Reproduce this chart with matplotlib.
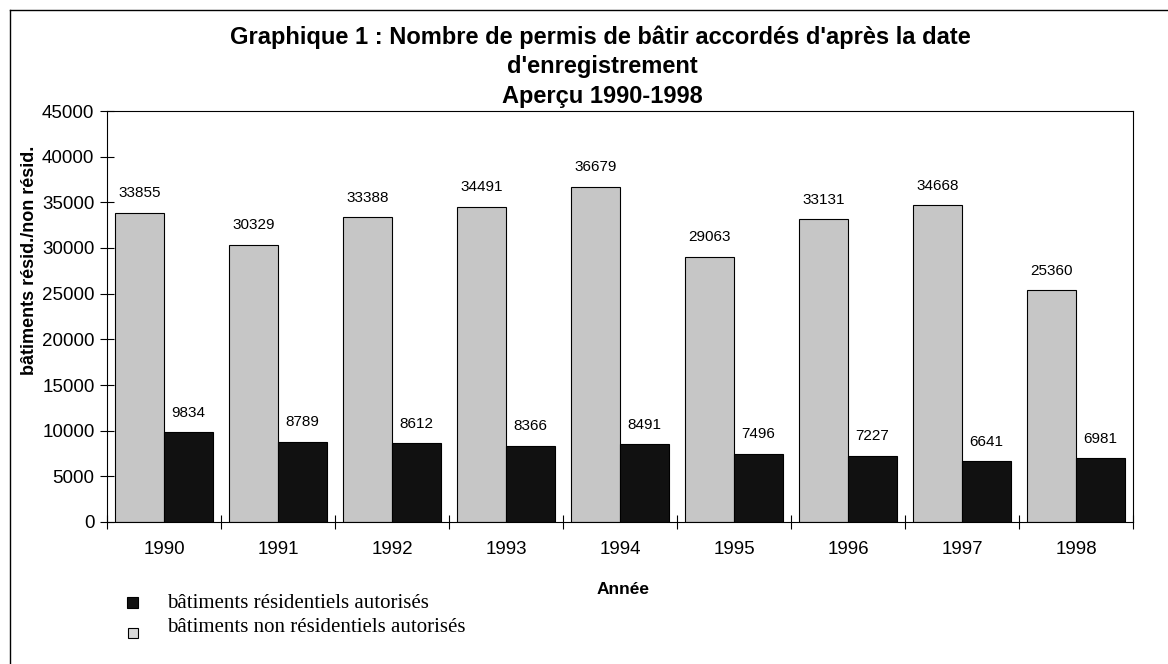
import matplotlib
matplotlib.use("Agg")
import matplotlib.pyplot as plt
from matplotlib.lines import Line2D
import numpy as np

years = ["1990", "1991", "1992", "1993", "1994", "1995", "1996", "1997", "1998"]
non_resid = [33855, 30329, 33388, 34491, 36679, 29063, 33131, 34668, 25360]
resid = [9834, 8789, 8612, 8366, 8491, 7496, 7227, 6641, 6981]
yticks = [0, 5000, 10000, 15000, 20000, 25000, 30000, 35000, 40000, 45000]

W, H = 1168, 664
fig = plt.figure(figsize=(W / 100, H / 100), dpi=100)
sans = "Liberation Sans"
serif = "Liberation Serif"

ax = fig.add_axes([107 / W, 1 - 522 / H, (1133 - 107) / W, (522 - 111) / H])
x = np.arange(len(years))
w = 0.43
ax.bar(x - w / 2, non_resid, w, color="#c6c6c6", edgecolor="black", linewidth=0.8, zorder=2)
ax.bar(x + w / 2, resid, w, color="#111111", edgecolor="black", linewidth=0.8, zorder=2)

for xi, v in zip(x, non_resid):
    ax.annotate(str(v), (xi - w / 2, v), xytext=(0, 9), textcoords="offset points",
                ha="center", va="bottom", fontsize=11, family=sans)
for xi, v in zip(x, resid):
    ax.annotate(str(v), (xi + w / 2, v), xytext=(0, 9), textcoords="offset points",
                ha="center", va="bottom", fontsize=11, family=sans)

ax.set_xlim(-0.5, len(years) - 0.5)
ax.set_ylim(0, 45000)
ax.set_yticks(yticks)
ax.set_yticklabels([str(t) for t in yticks], fontsize=13.5, family=sans)
ax.set_xticks(x)
ax.set_xticklabels(years, fontsize=13.5, family=sans)
ax.set_xticks(np.arange(-0.5, len(years), 1.0), minor=True)
ax.tick_params(axis="x", which="major", length=0, pad=14)
ax.tick_params(axis="x", which="minor", direction="inout", length=10, width=0.8)
ax.tick_params(axis="y", direction="inout", length=10, width=0.8, pad=4)
for s in ax.spines.values():
    s.set_linewidth(0.8)

fig.text(623 / W, 1 - 590 / H, "Année", ha="center", va="center",
         fontsize=12.5, fontweight="bold", family=sans)

fig.text(30 / W, 1 - 260 / H, "bâtiments résid./non résid.", rotation=90, ha="center", va="center",
         fontsize=13, fontweight="bold", family=sans)

fig.text(600 / W, 1 - 37 / H, "Graphique 1 : Nombre de permis de bâtir accordés d'après la date",
         ha="center", va="center", fontsize=17, fontweight="bold", family=sans)
fig.text(602 / W, 1 - 67 / H, "d'enregistrement", ha="center", va="center",
         fontsize=17, fontweight="bold", family=sans)
fig.text(602 / W, 1 - 97 / H, "Aperçu 1990-1998", ha="center", va="center",
         fontsize=17, fontweight="bold", family=sans)

# legend
fig.patches.append(plt.Rectangle((127 / W, 1 - 608 / H), 11 / W, 11 / H, transform=fig.transFigure,
                                 facecolor="#111111", edgecolor="black", linewidth=0.8))
fig.patches.append(plt.Rectangle((128 / W, 1 - 638 / H), 10 / W, 10 / H, transform=fig.transFigure,
                                 facecolor="#d8d8d8", edgecolor="black", linewidth=0.8))
fig.text(167 / W, 1 - 603 / H, "bâtiments résidentiels autorisés", ha="left", va="center",
         fontsize=15, family=serif)
fig.text(167 / W, 1 - 627 / H, "bâtiments non résidentiels autorisés", ha="left", va="center",
         fontsize=15, family=serif)

# outer frame (left and top)
fig.add_artist(Line2D([10 / W, 10 / W], [0, 1 - 10 / H], transform=fig.transFigure, color="black", lw=1))
fig.add_artist(Line2D([10 / W, 1], [1 - 10 / H, 1 - 10 / H], transform=fig.transFigure, color="black", lw=1))

fig.savefig("out.png", dpi=100)
